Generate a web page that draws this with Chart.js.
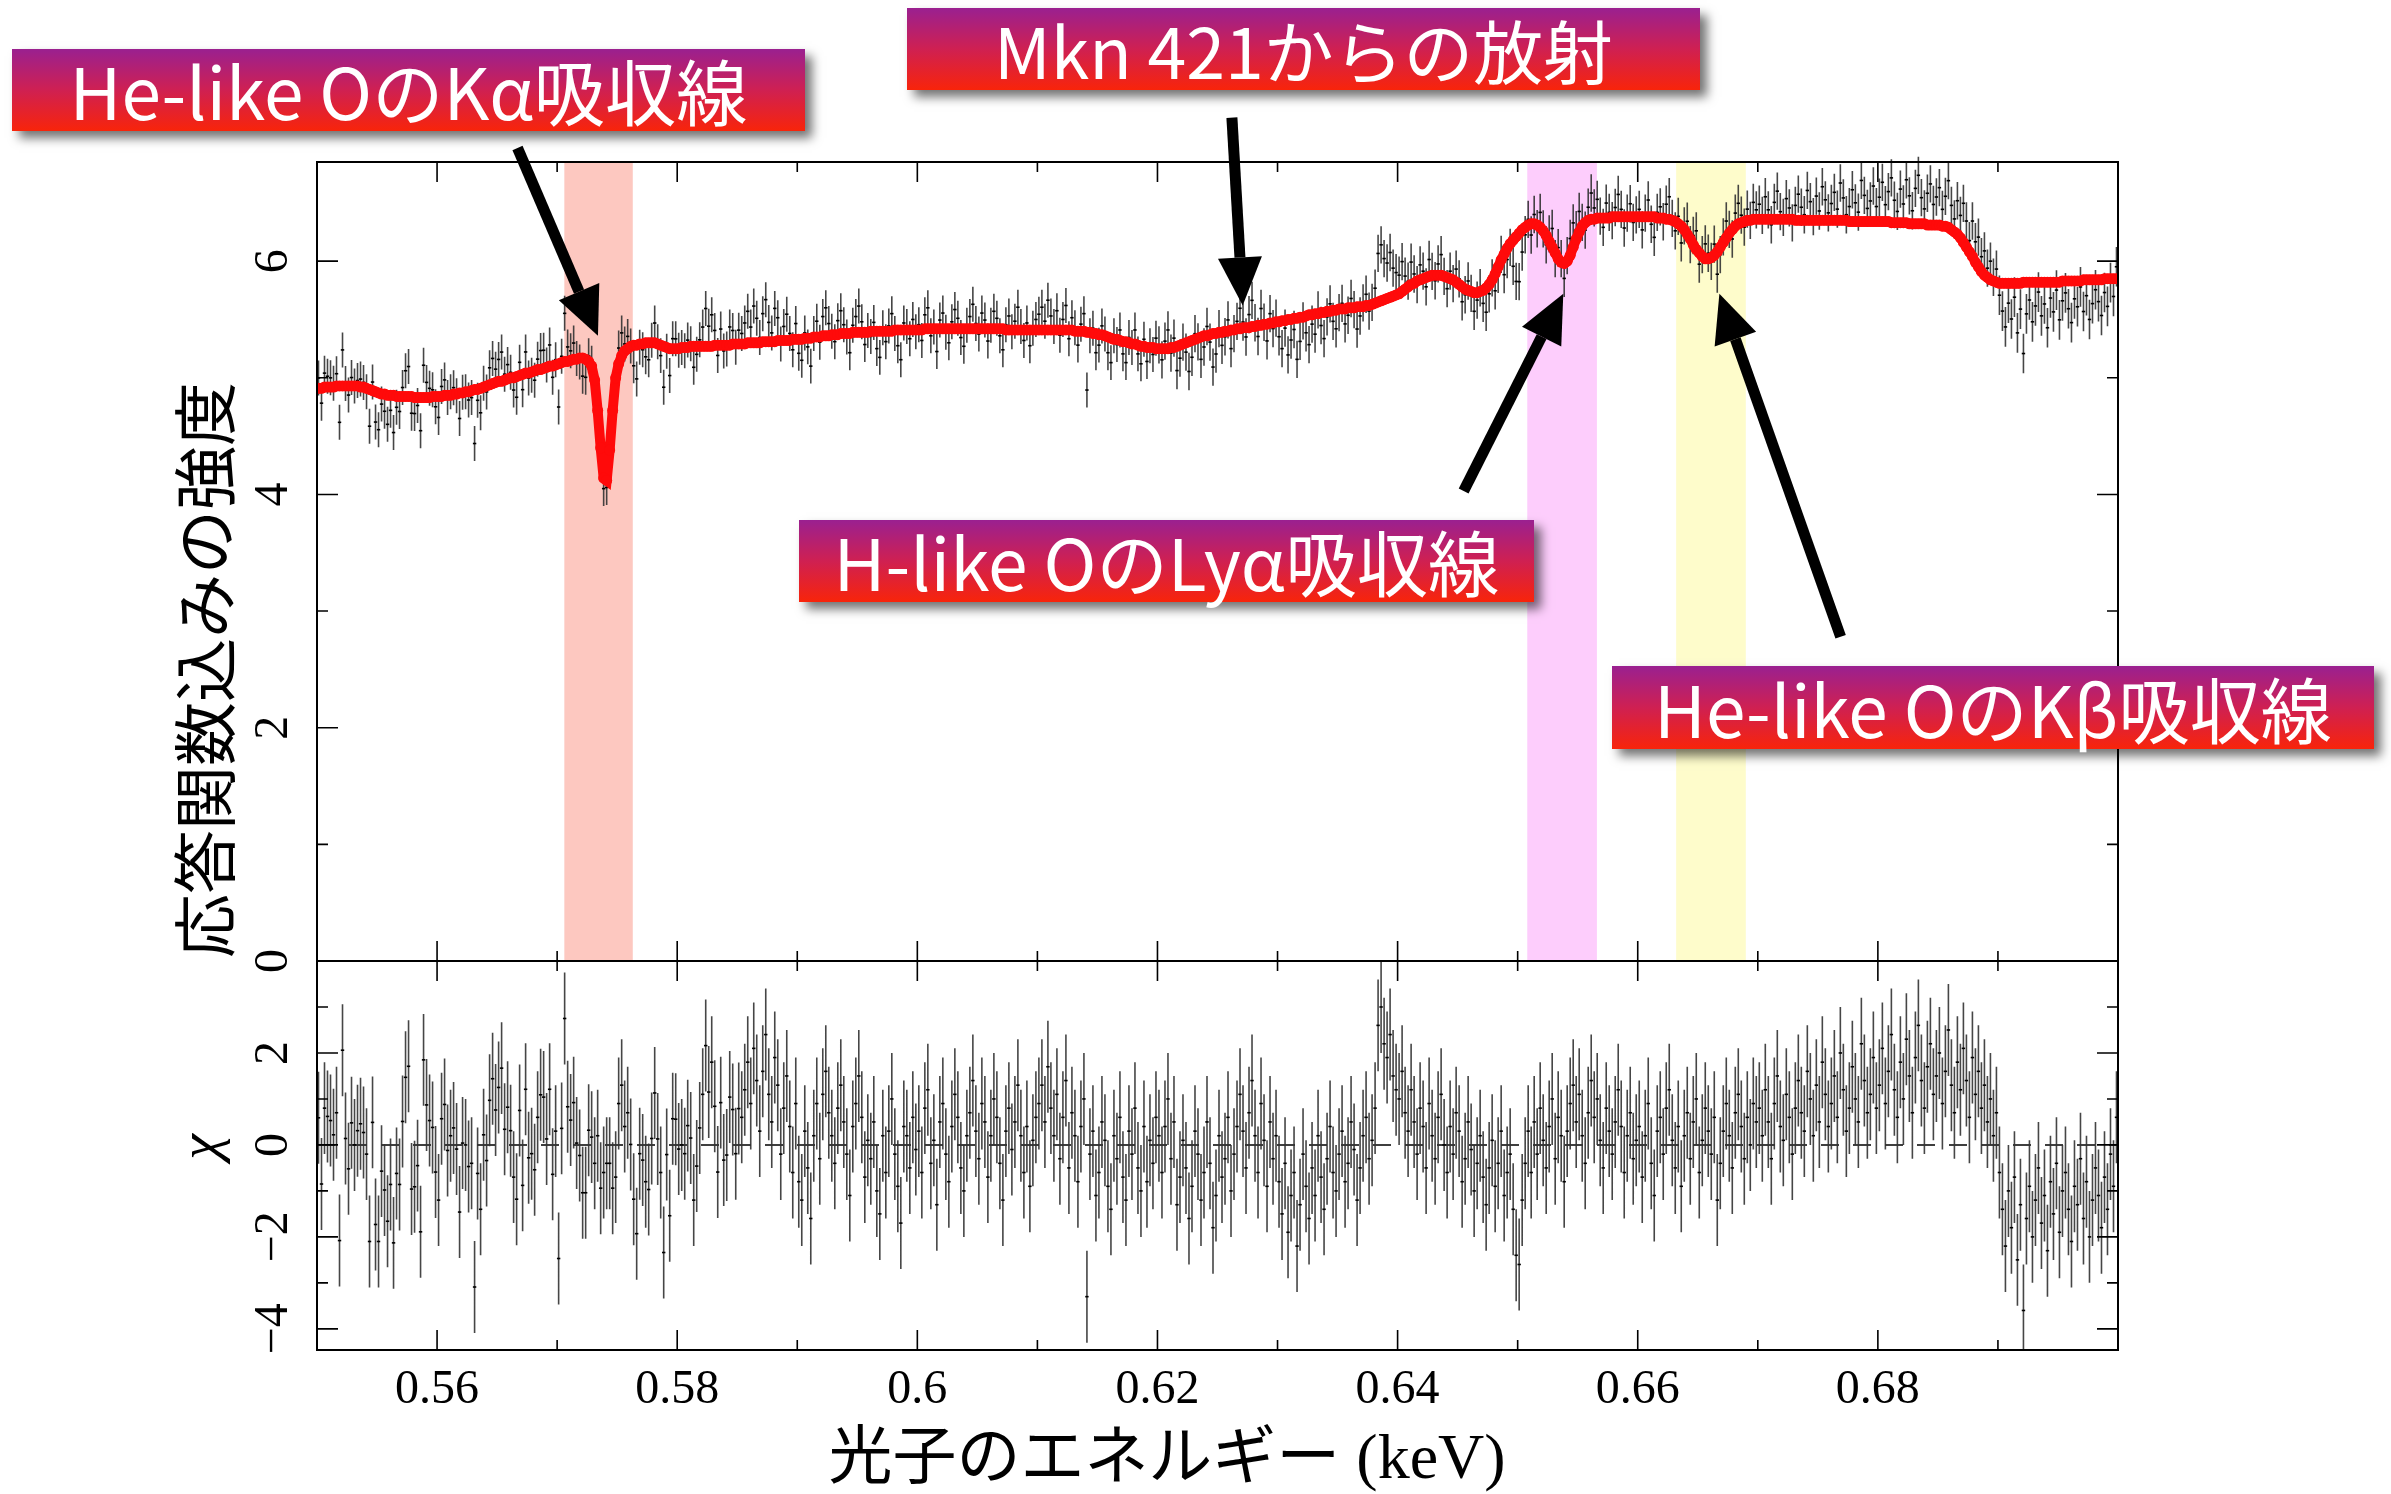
<!DOCTYPE html>
<html>
<head>
<meta charset="utf-8">
<script src="https://cdn.jsdelivr.net/npm/chart.js@4.4.1/dist/chart.umd.min.js"></script>
<style>
  html, body { margin: 0; background: #fff; }
  canvas { display: block; }
</style>
</head>
<body>
<canvas id="spec" width="2391" height="1494" style="width:2391px;height:1494px"></canvas>
<script>
// --- spectrum data (bins of 0.25 eV from 0.55 keV) ---
const binStart = 0.55;
const binWidth = 0.00025;

// best-fit model, counts per bin (one line = 2.5 eV)
const model = [
  // 0.55 - 0.56
  4.91,4.91,4.92,4.92,4.92,4.92,4.93,4.93,4.93,4.93,
  4.93,4.93,4.93,4.93,4.92,4.92,4.91,4.90,4.89,4.88,
  4.87,4.86,4.86,4.85,4.85,4.85,4.84,4.84,4.84,4.84,
  4.84,4.84,4.83,4.83,4.83,4.83,4.83,4.83,4.84,4.84,
  // 0.56 - 0.57
  4.84,4.84,4.85,4.85,4.85,4.86,4.86,4.87,4.87,4.88,
  4.88,4.89,4.90,4.90,4.91,4.92,4.93,4.94,4.95,4.96,
  4.97,4.97,4.98,4.99,5.00,5.00,5.01,5.02,5.03,5.04,
  5.04,5.05,5.06,5.07,5.07,5.08,5.09,5.10,5.10,5.11,
  // 0.57 - 0.58  (O VII Kα)
  5.12,5.13,5.14,5.14,5.15,5.16,5.16,5.17,5.17,5.16,
  5.14,5.10,4.98,4.72,4.40,4.14,4.12,4.38,4.72,5.00,
  5.12,5.19,5.23,5.25,5.27,5.28,5.28,5.29,5.29,5.30,
  5.30,5.30,5.30,5.29,5.28,5.27,5.26,5.25,5.25,5.25,
  // 0.58 - 0.59
  5.25,5.26,5.26,5.26,5.27,5.27,5.27,5.27,5.27,5.27,
  5.27,5.27,5.28,5.28,5.28,5.28,5.28,5.28,5.29,5.29,
  5.29,5.29,5.29,5.30,5.30,5.30,5.30,5.30,5.31,5.31,
  5.31,5.31,5.31,5.32,5.32,5.32,5.32,5.32,5.33,5.33,
  // 0.59 - 0.60
  5.33,5.33,5.34,5.34,5.34,5.35,5.35,5.35,5.36,5.36,
  5.36,5.37,5.37,5.37,5.38,5.38,5.38,5.38,5.39,5.39,
  5.39,5.39,5.39,5.39,5.40,5.40,5.40,5.40,5.40,5.40,
  5.40,5.40,5.41,5.41,5.41,5.41,5.41,5.41,5.41,5.41,
  // 0.60 - 0.61
  5.41,5.41,5.42,5.42,5.42,5.42,5.42,5.42,5.42,5.42,
  5.42,5.42,5.42,5.42,5.42,5.42,5.42,5.42,5.42,5.42,
  5.42,5.42,5.42,5.42,5.42,5.42,5.42,5.42,5.42,5.41,
  5.41,5.41,5.41,5.41,5.41,5.41,5.41,5.41,5.41,5.41,
  // 0.61 - 0.62
  5.41,5.41,5.41,5.41,5.41,5.41,5.41,5.41,5.41,5.41,
  5.41,5.41,5.40,5.40,5.40,5.40,5.39,5.39,5.38,5.38,
  5.37,5.37,5.36,5.35,5.34,5.33,5.33,5.32,5.31,5.31,
  5.30,5.29,5.29,5.28,5.27,5.27,5.26,5.26,5.26,5.25,
  // 0.62 - 0.63
  5.25,5.25,5.25,5.25,5.26,5.26,5.27,5.28,5.29,5.30,
  5.31,5.32,5.33,5.34,5.35,5.36,5.36,5.37,5.38,5.38,
  5.39,5.39,5.40,5.40,5.41,5.41,5.42,5.42,5.43,5.43,
  5.43,5.44,5.44,5.45,5.45,5.46,5.46,5.47,5.47,5.48,
  // 0.63 - 0.64
  5.48,5.49,5.49,5.50,5.50,5.51,5.51,5.52,5.52,5.53,
  5.54,5.54,5.55,5.55,5.56,5.56,5.57,5.57,5.58,5.58,
  5.59,5.59,5.59,5.60,5.60,5.60,5.61,5.61,5.61,5.62,
  5.62,5.63,5.64,5.65,5.66,5.67,5.68,5.69,5.70,5.71,
  // 0.64 - 0.65
  5.72,5.74,5.76,5.78,5.80,5.81,5.83,5.84,5.85,5.86,
  5.87,5.88,5.88,5.88,5.88,5.87,5.86,5.85,5.84,5.82,
  5.80,5.78,5.76,5.75,5.74,5.73,5.73,5.74,5.75,5.77,
  5.80,5.84,5.89,5.95,6.01,6.06,6.11,6.15,6.18,6.21,
  // 0.65 - 0.66  (O VIII Lyα)
  6.24,6.27,6.29,6.31,6.32,6.32,6.31,6.29,6.26,6.22,
  6.17,6.12,6.07,6.02,5.99,5.98,6.00,6.05,6.12,6.19,
  6.25,6.30,6.33,6.35,6.36,6.36,6.37,6.37,6.37,6.37,
  6.37,6.38,6.38,6.38,6.38,6.38,6.38,6.38,6.38,6.38,
  // 0.66 - 0.67  (O VII Kβ)
  6.38,6.38,6.38,6.38,6.38,6.38,6.37,6.37,6.37,6.36,
  6.36,6.35,6.34,6.32,6.30,6.27,6.23,6.19,6.14,6.10,
  6.07,6.04,6.02,6.02,6.03,6.05,6.08,6.12,6.16,6.20,
  6.24,6.27,6.30,6.32,6.33,6.34,6.35,6.35,6.36,6.36,
  // 0.67 - 0.68
  6.36,6.36,6.36,6.36,6.36,6.36,6.36,6.36,6.36,6.36,
  6.36,6.36,6.35,6.35,6.35,6.35,6.35,6.35,6.35,6.35,
  6.35,6.35,6.35,6.35,6.35,6.35,6.35,6.35,6.35,6.35,
  6.34,6.34,6.34,6.34,6.34,6.34,6.34,6.34,6.34,6.34,
  // 0.68 - 0.69
  6.34,6.34,6.34,6.34,6.33,6.33,6.33,6.33,6.33,6.33,
  6.32,6.32,6.32,6.32,6.32,6.32,6.31,6.31,6.31,6.31,
  6.31,6.30,6.30,6.29,6.27,6.25,6.23,6.20,6.16,6.12,
  6.08,6.04,5.99,5.95,5.91,5.88,5.86,5.84,5.83,5.82,
  // 0.69 - 0.70
  5.81,5.81,5.81,5.81,5.81,5.81,5.81,5.81,5.82,5.82,
  5.82,5.82,5.82,5.82,5.82,5.82,5.82,5.82,5.82,5.82,
  5.82,5.83,5.83,5.83,5.83,5.83,5.83,5.83,5.84,5.84,
  5.84,5.84,5.84,5.84,5.84,5.85,5.85,5.85,5.85,5.85
];

// residuals (data - model) / error, same bins
const chi = [
  // 0.55 - 0.56
  0.59,-0.85,0.8,0.62,0.53,0.22,0.7,-2.08,2.06,0.14,
  -0.52,0.48,0,0.31,0.46,0.27,-0.2,-2.1,0.49,-1.73,
  -2.1,-0.57,-0.98,-1.66,-0.86,-2.13,-0.62,-0.86,0.51,1.47,
  1.71,-0.96,-0.91,-0.45,-1.89,1.85,0.87,0.53,0.38,-0.59,
  // 0.56 - 0.57
  -1.2,0.57,0.88,-0.12,0.2,0.37,-0.09,-1.46,0.04,0,
  -0.47,-0.4,-3.09,-0.62,-1.4,0.22,-0.34,0.97,1.44,0.76,
  1.25,1.67,0.34,0.82,0.31,-0.7,-1.18,0.75,-0.88,1.21,
  -0.28,-0.19,-0.54,0.6,1.09,1.04,0.13,1.21,-0.64,0.3,
  // 0.57 - 0.58
  -2.47,0.36,2.75,0.83,0.54,0.92,0.04,-0.23,-1.04,-1.04,
  0.32,0.17,-0.4,0.2,-0.94,-0.6,-0.4,-0.4,-0.94,-0.7,
  0.9,1.3,0.4,0.7,0.01,-1.18,-1.93,-0.19,-0.33,-0.8,
  -0.97,0.14,1.13,0.13,-0.6,-2.34,-0.21,-1.54,0.57,0.56,
  // 0.58 - 0.59
  -0.09,0,-0.19,0.42,0.15,-1.2,-0.46,0.37,1.1,2.16,
  1.15,1.8,0.84,-0.59,0.92,-0.33,-0.22,1.04,0.77,-0.19,
  0.79,0.6,1.2,1.8,0.9,2.1,1.4,0.3,1.6,2.4,
  1.1,0.5,1.9,1.3,-0.2,0.8,1.5,0.4,-0.6,0.9,
  // 0.59 - 0.60
  -0.8,-1.2,0.3,-0.5,-1.6,0.2,0.9,-0.3,1.1,1.6,
  0.7,0.2,-0.4,0.8,1.3,0.5,-0.2,-1.1,0.4,0.9,
  1.5,0.6,-0.7,0.1,-0.3,0.5,-1.0,-1.5,0.2,-0.6,
  0.3,1.0,-0.2,-0.9,-1.7,0.4,0.2,-0.5,0.6,-0.1,
  // 0.60 - 0.61
  0.3,-0.6,0.8,1.2,-0.4,0.1,-1.3,0.5,0.9,-0.2,
  -0.8,0.4,1.1,0.6,-0.5,-1.0,0.2,0.7,1.4,0.3,
  -0.3,0.9,0.5,-0.7,0.2,1.0,0.6,-0.4,-1.2,0.3,
  0.8,-0.1,0.5,1.3,0.2,-0.6,0.4,-0.9,0.1,0.6,
  // 0.61 - 0.62
  0.9,1.3,0.5,1.7,0.8,0.2,1.1,-0.3,0.6,1.4,
  -0.5,0.7,0.2,-0.8,0.4,1.0,-3.3,-0.2,0.3,-1.1,
  -0.6,0.5,0.1,-0.9,-1.4,0.2,-0.3,0.6,-0.7,-1.2,
  0.3,-0.2,0.8,-0.5,-1.0,0.4,-0.8,0.1,-0.4,0.6,
  // 0.62 - 0.63
  0.2,-0.6,0.4,1.0,-0.3,0.5,-1.3,-0.7,0.1,-0.5,
  -1.6,-0.9,0.3,-0.2,-1.2,-0.6,0.5,-0.4,-1.8,-1.1,
  0.2,-0.7,-0.3,0.6,-1.0,-0.2,0.4,1.1,0.3,-0.5,
  0.7,1.4,0.2,-0.6,0.9,0.1,-0.9,0.5,-0.3,0.2,
  // 0.63 - 0.64
  -0.8,-1.5,-0.4,-1.9,-1.1,-0.6,-2.2,-1.3,-0.2,-0.9,
  -1.6,-0.5,-1.1,0.2,-0.7,-1.4,-0.3,0.4,-0.6,-1.0,
  -0.2,0.3,-0.8,-0.4,0.5,-0.1,-1.2,-0.5,0.2,0.6,
  -0.3,0.1,0.8,2.6,3.0,2.2,1.9,2.4,1.5,1.2,
  // 0.64 - 0.65
  1.0,1.6,0.7,0.3,1.2,0.5,-0.2,0.8,0.4,-0.5,
  0.9,0.2,-0.3,0.6,1.1,0.0,-0.6,0.4,-0.2,0.7,
  0.3,-0.8,-0.3,0.5,-0.1,-1.0,-0.4,0.2,-0.7,-1.3,
  -0.5,0.1,-0.9,-0.4,0.3,-1.1,-0.6,-0.2,-1.4,-2.4,
  // 0.65 - 0.66
  -2.6,-1.2,-0.4,0.3,-0.6,0.5,-0.2,0.8,0.1,-0.5,
  0.4,1.0,-0.3,0.6,0.2,-0.8,0.3,0.9,1.3,0.5,
  1.1,0.2,-0.4,0.7,1.4,0.6,1.0,0.1,-0.5,0.8,
  0.3,-0.2,0.5,1.2,0.4,-0.6,0.2,0.7,-0.3,0.1,
  // 0.66 - 0.67
  0.4,-0.7,0.2,0.9,-0.4,-1.1,0.3,0.6,-0.2,0.8,
  1.2,0.1,-0.5,0.4,-0.9,0.2,0.7,-0.3,0.5,1.0,
  -0.6,0.1,0.8,0.3,-0.2,0.6,-1.2,-0.4,0.3,0.9,
  0.2,-0.5,0.7,1.1,0.4,-0.3,0.6,0.0,0.9,0.5,
  // 0.67 - 0.68
  0.8,0.2,1.2,0.5,-0.3,0.9,1.5,0.4,0.1,1.1,
  0.6,-0.2,0.8,1.4,0.7,0.3,1.6,1.0,0.2,1.3,
  0.5,1.8,1.1,0.4,0.9,1.5,0.6,2.0,1.2,0.3,
  0.8,1.7,1.0,0.5,2.2,1.4,0.7,1.1,1.9,0.8,
  // 0.68 - 0.69
  1.3,2.1,0.9,1.6,2.4,1.2,0.6,1.8,1.0,2.3,
  1.5,0.7,1.9,2.6,1.4,0.8,1.7,2.2,1.1,1.5,
  2.0,0.9,1.6,2.5,1.3,0.7,1.8,1.2,2.1,1.4,
  0.6,1.9,1.1,1.6,0.8,1.3,0.5,1.0,0.2,0.7,
  // 0.69 - 0.70
  -0.6,-1.4,-2.2,-1.0,-1.8,-0.7,-2.5,-1.3,-3.6,-1.6,
  -0.9,-2.0,-1.2,-0.5,-1.7,-1.1,-2.3,-0.8,-1.5,-0.4,
  -1.9,-1.0,-0.6,-1.4,-2.1,-0.9,-1.3,-0.3,-1.6,-0.8,
  -2.0,-1.2,-0.5,-1.1,-1.8,-0.7,-1.4,-0.2,-0.9,0.6
];

// 1-sigma error of the counts, per 10 eV block
const sigmaBlocks = [0.15,0.15,0.15,0.15,0.15,0.15,0.15,0.16,0.16,0.16,0.16,0.16,0.16,0.16,0.17];

// absorption line windows (keV)
const bandRanges = [[0.5706, 0.5763], [0.6508, 0.6566], [0.6632, 0.6690]];

// axis ticks
const xTickValues = [0.56, 0.58, 0.60, 0.62, 0.64, 0.66, 0.68];
const xTickLabels = ['0.56', '0.58', '0.6', '0.62', '0.64', '0.66', '0.68'];
const specTickValues = [0, 2, 4, 6];
const specTickLabels = ['0', '2', '4', '6'];
const chiTickValues = [-4, -2, 0, 2];
const chiTickLabels = ['\u22124', '\u22122', '0', '2'];

const tagTexts = ['He-like OのKα吸収線', 'Mkn 421からの放射', 'H-like OのLyα吸収線', 'He-like OのKβ吸収線'];

// --- derived series ---
const n = Math.min(model.length, chi.length);
const energies = [], sigma = [], counts = [];
for (let i = 0; i < n; i++) {
  energies.push(binStart + binWidth * (i + 0.5));
  sigma.push(sigmaBlocks[Math.min(sigmaBlocks.length - 1, Math.floor(i / 40))]);
  counts.push(model[i] + chi[i] * sigma[i]);
}

// --- layout / style ---
const bandColors = ['#fdc8c0', '#fdcdfc', '#fefccb'];
const tagBoxes = [
  { x: 12,   y: 49,  w: 793, h: 82, tw: 678 },
  { x: 907,  y: 8,   w: 793, h: 82, tw: 619 },
  { x: 799,  y: 520, w: 735, h: 82, tw: 666 },
  { x: 1612, y: 666, w: 762, h: 83, tw: 678 }
];
// arrows in data coordinates of the spectrum panel: [tailE, tailY, tipE, tipY]
const arrows = [
  [0.5667, 6.97, 0.5734, 5.36],
  [0.6262, 7.23, 0.6271, 5.62],
  [0.6455, 4.03, 0.6538, 5.72],
  [0.6769, 2.78, 0.6668, 5.72]
];

function drawArrow(ctx, x0, y0, x1, y1) {
  const ang = Math.atan2(y1 - y0, x1 - x0);
  const headLen = 48, headHalf = 22, shaft = 11;
  const bx = x1 - Math.cos(ang) * headLen, by = y1 - Math.sin(ang) * headLen;
  ctx.save();
  ctx.strokeStyle = '#000';
  ctx.lineWidth = shaft;
  ctx.beginPath(); ctx.moveTo(x0, y0); ctx.lineTo(bx, by); ctx.stroke();
  ctx.fillStyle = '#000';
  ctx.beginPath();
  ctx.moveTo(x1, y1);
  ctx.lineTo(bx + Math.sin(ang) * headHalf, by - Math.cos(ang) * headHalf);
  ctx.lineTo(bx - Math.sin(ang) * headHalf, by + Math.cos(ang) * headHalf);
  ctx.closePath(); ctx.fill();
  ctx.restore();
}

function drawTag(ctx, b, text) {
  ctx.save();
  const g = ctx.createLinearGradient(0, b.y, 0, b.y + b.h);
  g.addColorStop(0, '#9a2090');
  g.addColorStop(0.5, '#cf2052');
  g.addColorStop(1, '#f8240a');
  ctx.shadowColor = 'rgba(0,0,0,0.55)';
  ctx.shadowBlur = 10;
  ctx.shadowOffsetX = 7;
  ctx.shadowOffsetY = 7;
  ctx.fillStyle = g;
  ctx.fillRect(b.x, b.y, b.w, b.h);
  ctx.restore();
  ctx.save();
  let size = 58;
  ctx.font = `400 ${size}px "Noto Sans CJK JP", "Noto Sans", sans-serif`;
  const w = ctx.measureText(text).width;
  size = size * b.tw / w;
  ctx.font = `400 ${size}px "Noto Sans CJK JP", "Noto Sans", sans-serif`;
  ctx.fillStyle = '#fff';
  ctx.textAlign = 'center';
  ctx.textBaseline = 'middle';
  ctx.fillText(text, b.x + b.w / 2, b.y + b.h / 2 + 3);
  ctx.restore();
}

function rotatedText(ctx, text, cx, cy, font) {
  ctx.save();
  ctx.translate(cx, cy);
  ctx.rotate(-Math.PI / 2);
  ctx.font = font;
  ctx.fillStyle = '#000';
  ctx.textAlign = 'center';
  ctx.textBaseline = 'middle';
  ctx.fillText(text, 0, 0);
  ctx.restore();
}

const panelDecor = {
  id: 'panelDecor',
  beforeDatasetsDraw(chart) {
    const { ctx, scales: { x, y, yc } } = chart;
    ctx.save();
    // line windows in the spectrum panel
    bandRanges.forEach((r, k) => {
      const a = x.getPixelForValue(r[0]), b = x.getPixelForValue(r[1]);
      ctx.fillStyle = bandColors[k];
      ctx.fillRect(a, y.top, b - a, y.bottom - y.top);
    });
    // chi = 0 reference
    const y0 = yc.getPixelForValue(0);
    ctx.strokeStyle = '#000';
    ctx.lineWidth = 1.5;
    ctx.setLineDash([18, 14]);
    ctx.beginPath(); ctx.moveTo(x.left, y0); ctx.lineTo(x.right, y0); ctx.stroke();
    ctx.setLineDash([]);
    // error bars
    ctx.strokeStyle = 'rgba(50,50,50,0.9)';
    ctx.lineWidth = 1.6;
    ctx.beginPath();
    for (let i = 0; i < n; i++) {
      const px = x.getPixelForValue(energies[i]);
      ctx.moveTo(px, y.getPixelForValue(counts[i] + sigma[i]));
      ctx.lineTo(px, y.getPixelForValue(counts[i] - sigma[i]));
    }
    ctx.stroke();
    ctx.save();
    ctx.beginPath();
    ctx.rect(x.left, yc.top, x.right - x.left, yc.bottom - yc.top);
    ctx.clip();
    ctx.beginPath();
    for (let i = 0; i < n; i++) {
      const px = x.getPixelForValue(energies[i]);
      ctx.moveTo(px, yc.getPixelForValue(chi[i] + 1));
      ctx.lineTo(px, yc.getPixelForValue(chi[i] - 1));
    }
    ctx.stroke();
    ctx.restore();
    ctx.restore();
  },
  afterDatasetsDraw(chart) {
    const { ctx, scales: { x, y, yc } } = chart;
    const L = x.left, R = x.right;
    ctx.save();
    ctx.strokeStyle = '#000';
    ctx.lineWidth = 2;
    ctx.strokeRect(L, y.top, R - L, y.bottom - y.top);
    ctx.strokeRect(L, yc.top, R - L, yc.bottom - yc.top);
    // inward ticks on every side of both panels
    ctx.lineWidth = 1.6;
    ctx.beginPath();
    for (let k = 1; k < 15; k++) {
      const px = x.getPixelForValue(0.55 + 0.01 * k);
      const len = k % 2 === 1 ? 20 : 10;
      [y, yc].forEach(s => {
        ctx.moveTo(px, s.top); ctx.lineTo(px, s.top + len);
        ctx.moveTo(px, s.bottom); ctx.lineTo(px, s.bottom - len);
      });
    }
    [[y, 1, 6], [yc, -4, 3]].forEach(([s, lo, hi]) => {
      for (let v = lo; v <= hi; v++) {
        const py = s.getPixelForValue(v);
        if (py <= s.top + 1 || py >= s.bottom - 1) continue;
        const len = v % 2 === 0 ? 21 : 11;
        ctx.moveTo(L, py); ctx.lineTo(L + len, py);
        ctx.moveTo(R, py); ctx.lineTo(R - len, py);
      }
    });
    ctx.stroke();
    // tick labels
    ctx.fillStyle = '#000';
    ctx.font = '48px "Liberation Serif", serif';
    ctx.textAlign = 'center';
    ctx.textBaseline = 'alphabetic';
    xTickValues.forEach((v, i) => ctx.fillText(xTickLabels[i], x.getPixelForValue(v), yc.bottom + 53));
    ctx.restore();
    specTickValues.forEach((v, i) =>
      rotatedText(ctx, specTickLabels[i], 274, y.getPixelForValue(v), '48px "Liberation Serif", serif'));
    chiTickValues.forEach((v, i) =>
      rotatedText(ctx, chiTickLabels[i], 274, yc.getPixelForValue(v), '48px "Liberation Serif", serif'));
  },
  afterDraw(chart) {
    const { ctx, scales: { x, y } } = chart;
    // axis titles
    rotatedText(ctx, '応答関数込みの強度', 205, 670, '64px "Noto Sans CJK JP", serif');
    rotatedText(ctx, 'χ', 203, 1147, 'italic 58px "Liberation Serif", serif');
    ctx.save();
    ctx.font = '64px "Liberation Serif", "Noto Sans CJK JP", serif';
    ctx.fillStyle = '#000';
    ctx.textAlign = 'center';
    ctx.textBaseline = 'alphabetic';
    ctx.fillText('光子のエネルギー (keV)', 1167, 1478);
    ctx.restore();
    // labels and pointers
    tagBoxes.forEach((b, i) => drawTag(ctx, b, tagTexts[i]));
    arrows.forEach(a => drawArrow(ctx,
      x.getPixelForValue(a[0]), y.getPixelForValue(a[1]),
      x.getPixelForValue(a[2]), y.getPixelForValue(a[3])));
  }
};

const hiddenAxis = {
  ticks: { display: false },
  grid: { display: false },
  border: { display: false }
};

new Chart(document.getElementById('spec'), {
  type: 'scatter',
  data: {
    datasets: [
      {
        label: 'model',
        type: 'line',
        data: energies.map((e, i) => ({ x: e, y: model[i] })),
        yAxisID: 'y',
        borderColor: '#ff0a0a',
        borderWidth: 10,
        pointRadius: 5.5,
        pointBackgroundColor: '#ff0a0a',
        pointBorderWidth: 0,
        order: 0
      },
      {
        label: 'counts',
        data: energies.map((e, i) => ({ x: e, y: counts[i] })),
        yAxisID: 'y',
        pointStyle: 'line',
        pointRadius: 1.7,
        borderColor: '#000',
        borderWidth: 1.6,
        order: 1
      },
      {
        label: 'chi',
        data: energies.map((e, i) => ({ x: e, y: chi[i] })),
        yAxisID: 'yc',
        pointStyle: 'line',
        pointRadius: 1.7,
        borderColor: '#000',
        borderWidth: 1.6,
        order: 1
      }
    ]
  },
  options: {
    responsive: false,
    animation: false,
    devicePixelRatio: 1,
    layout: { padding: { left: 0, right: 273, top: 162, bottom: 0 } },
    scales: {
      x: { type: 'linear', position: 'bottom', min: 0.55, max: 0.70,
           afterFit(s) { s.height = 144; }, ...hiddenAxis },
      yc: { type: 'linear', position: 'left', stack: 'panels', stackWeight: 389,
            min: -4.46, max: 4, afterFit(s) { s.width = 317; }, ...hiddenAxis },
      y: { type: 'linear', position: 'left', stack: 'panels', stackWeight: 799,
           min: 0, max: 6.85, afterFit(s) { s.width = 317; }, ...hiddenAxis }
    },
    plugins: { legend: { display: false }, tooltip: { enabled: false } }
  },
  plugins: [panelDecor]
});
</script>
</body>
</html>
